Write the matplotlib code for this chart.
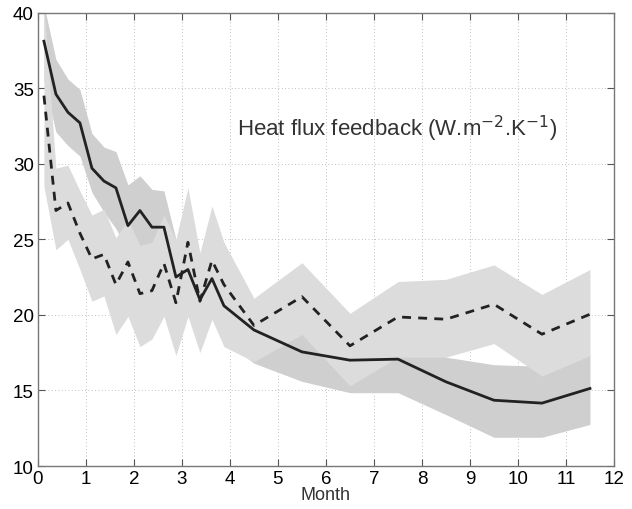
import numpy as np
import matplotlib.pyplot as plt

# months: weekly-ish resolution over the first four months, then monthly
month = [0.125, 0.375, 0.625, 0.875, 1.125, 1.375, 1.625, 1.875,
         2.125, 2.375, 2.625, 2.875, 3.125, 3.375, 3.625, 3.875,
         4.5, 5.5, 6.5, 7.5, 8.5, 9.5, 10.5, 11.5]

# solid curve and its band
solid = [38.1, 34.6, 33.4, 32.7, 29.7, 28.85, 28.4, 25.9,
         26.9, 25.8, 25.8, 22.5, 23.0, 21.0, 22.4, 20.6,
         19.0, 17.55, 17.0, 17.07, 15.57, 14.35, 14.16, 15.13]
solid_lo = [35.5, 32.1, 31.2, 30.5, 28.1, 26.8, 25.7, 24.2,
            24.5, 23.6, 23.5, 20.5, 20.5, 18.7, 20.0, 18.3,
            16.8, 15.6, 14.85, 14.85, 13.4, 11.9, 11.9, 12.75]
solid_hi = [40.5, 36.9, 35.6, 34.9, 32.0, 31.1, 30.8, 28.6,
            29.2, 28.3, 28.2, 25.0, 25.2, 23.5, 24.8, 22.8,
            21.0, 19.7, 19.0, 19.2, 17.2, 16.7, 16.6, 17.4]

# dashed curve and its band
dashed = [34.5, 26.9, 27.4, 25.4, 23.7, 24.0, 22.0, 23.5,
          21.4, 21.6, 23.4, 20.8, 24.8, 20.9, 23.6, 22.0,
          19.3, 21.2, 17.95, 19.86, 19.71, 20.7, 18.72, 20.04]
dashed_lo = [28.5, 24.3, 25.0, 23.0, 20.9, 21.25, 18.7, 19.9,
             17.9, 18.4, 19.9, 17.3, 19.9, 17.5, 19.7, 17.9,
             16.9, 18.7, 15.3, 17.2, 17.2, 18.1, 15.95, 17.3]
dashed_hi = [40.5, 29.7, 29.9, 28.2, 26.6, 27.0, 25.1, 26.3,
             24.6, 24.8, 26.6, 25.0, 28.4, 24.1, 27.2, 24.8,
             21.1, 23.45, 20.1, 22.2, 22.35, 23.3, 21.35, 23.0]

plt.rcParams['font.family'] = ['Liberation Sans', 'DejaVu Sans']

fig = plt.figure(figsize=(6.32, 5.1), dpi=100)
ax = fig.add_axes([0.060, 0.0843, 0.9115, 0.8892])

ax.fill_between(month, solid_lo, solid_hi, color='#cfcfcf', lw=0, zorder=1)
ax.fill_between(month, dashed_lo, dashed_hi, color='#dcdcdc', lw=0, zorder=2)
ax.plot(month, solid, color='#222222', lw=2, zorder=4)
ax.plot(month, dashed, color='#222222', lw=2, ls=(0, (3.2, 2.6)), zorder=4)

ax.set_xlim(0, 12)
ax.set_ylim(10, 40)
ax.set_xticks(range(0, 13))
ax.set_yticks(range(10, 41, 5))
ax.grid(True, ls=(0, (1, 3)), color='#aaaaaa', lw=0.6, zorder=0)
ax.set_axisbelow(True)
ax.tick_params(direction='in', top=True, right=True, labelsize=13.5,
               length=5, color='#555555', pad=3)
for s in ax.spines.values():
    s.set_color('#777777')
    s.set_linewidth(1)
ax.set_xlabel('Month', fontsize=13, color='#333333', labelpad=-1)

ax.text(4.15, 32.35, 'Heat flux feedback (W.m$^{-2}$.K$^{-1}$)',
        fontsize=16, color='#333333', va='center', ha='left')

fig.savefig('out.png', dpi=100)
